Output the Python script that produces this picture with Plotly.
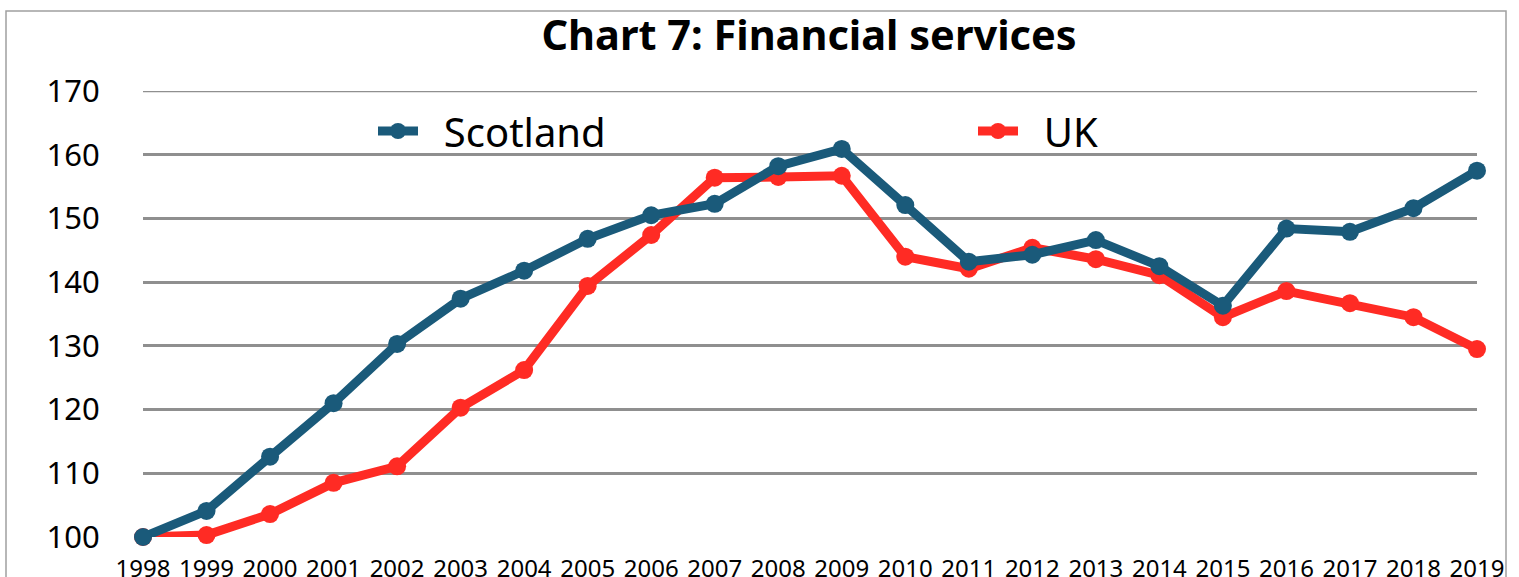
import plotly.graph_objects as go

years = list(range(1998, 2020))
scotland = [100.0, 104.1, 112.6, 121.0, 130.3, 137.4, 141.8, 146.8, 150.5, 152.3, 158.2,
            160.9, 152.1, 143.2, 144.3, 146.6, 142.5, 136.3, 148.4, 147.9, 151.6, 157.5]
uk = [100.0, 100.3, 103.6, 108.5, 111.1, 120.3, 126.2, 139.4, 147.4, 156.4, 156.5,
      156.7, 144.0, 142.1, 145.4, 143.6, 141.1, 134.5, 138.6, 136.7, 134.5, 129.5]
y_ticks = [100, 110, 120, 130, 140, 150, 160, 170]

BLUE = "#1a5a7a"
RED = "#ff2b24"
FONT = "Noto Sans"
GRID = "#8f8f8f"

fig = go.Figure()
fig.add_trace(go.Scatter(x=years, y=uk, name="&nbsp;&nbsp;UK", mode="lines+markers",
                         line=dict(color=RED, width=9), marker=dict(color=RED, size=18),
                         cliponaxis=False, legend="legend2"))
fig.add_trace(go.Scatter(x=years, y=scotland, name="&nbsp;&nbsp;Scotland", mode="lines+markers",
                         line=dict(color=BLUE, width=9), marker=dict(color=BLUE, size=18),
                         cliponaxis=False, legend="legend"))

L, R, T, B = 143, 42, 91, 40
W, H = 1519, 577
pw, ph = W - L - R, H - T - B

def px(xp):
    return (xp - L) / pw

def py(yp):
    return (H - B - yp) / ph

fig.update_layout(
    width=W, height=H,
    margin=dict(l=L, r=R, t=T, b=B, autoexpand=False),
    paper_bgcolor="white", plot_bgcolor="white",
    font=dict(family=FONT, color="black"),
    title=dict(text="<b>Chart 7: Financial services</b>", x=809 / W, xanchor="center",
               y=1 - 35 / H, yanchor="middle", yref="container",
               font=dict(family=FONT, size=41.5, color="black")),
    legend=dict(orientation="h", x=px(373), xanchor="left", y=py(131), yanchor="middle",
                itemwidth=40, font=dict(family=FONT, size=40), bgcolor="rgba(0,0,0,0)"),
    legend2=dict(orientation="h", x=px(973), xanchor="left", y=py(131), yanchor="middle",
                 itemwidth=40, font=dict(family=FONT, size=40), bgcolor="rgba(0,0,0,0)"),
    xaxis=dict(range=[1998, 2019], tickmode="array", tickvals=years,
               ticktext=[str(y) for y in years], showgrid=False, zeroline=False,
               showline=False, ticks="outside", ticklen=10, tickcolor="rgba(0,0,0,0)",
               tickfont=dict(family=FONT, size=24, color="black")),
    yaxis=dict(range=[100, 170], tickmode="array", tickvals=y_ticks,
               showgrid=True, gridcolor=GRID, gridwidth=2.5, zeroline=False,
               showline=False, ticks="outside", ticklen=36, tickcolor="rgba(0,0,0,0)",
               tickfont=dict(family=FONT, size=31, color="black")),
    shapes=[dict(type="rect", xref="paper", yref="paper",
                 x0=px(6), x1=px(1506), y0=py(620), y1=py(11),
                 line=dict(color="#a0a0a0", width=1.5), fillcolor="rgba(0,0,0,0)",
                 layer="below"),
            dict(type="line", xref="paper", yref="y", x0=0, x1=1, y0=y_ticks[-1], y1=y_ticks[-1],
                 line=dict(color=GRID, width=2.5), layer="below")],
    showlegend=True,
)

fig.write_html("out.html")
